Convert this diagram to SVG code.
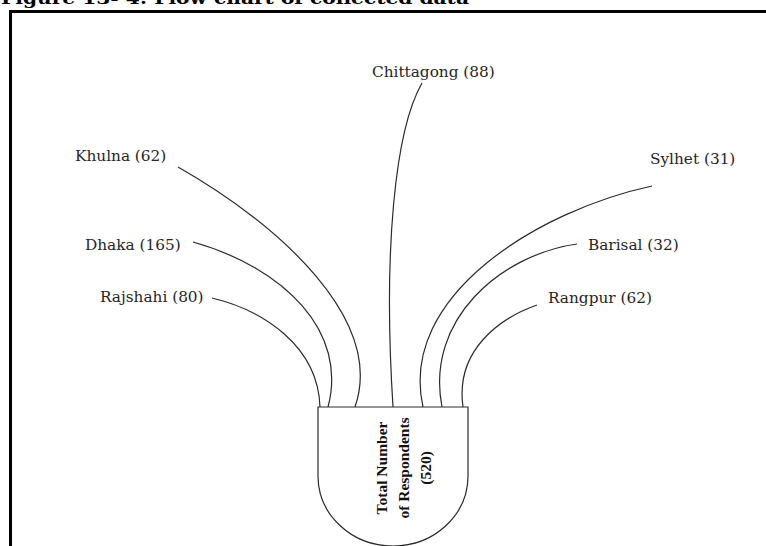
<svg xmlns="http://www.w3.org/2000/svg" width="766" height="546" viewBox="0 0 766 546">
<style>
.lbl{font-family:"DejaVu Serif","Liberation Serif",serif;font-size:15.3px;fill:#262626}
.conn{fill:none;stroke:#2a2a2a;stroke-width:1.2}
.cup{fill:#fff;stroke:#2a2a2a;stroke-width:1.2}
.cuptxt{font-family:"Liberation Serif",serif;font-size:15.5px;font-weight:bold;fill:#111;text-anchor:middle}
.title{font-family:"DejaVu Serif","Liberation Serif",serif;font-size:16px;font-weight:bold;fill:#000}
</style>
<rect width="766" height="546" fill="#fff"/>
<text class="title" x="1" y="4" textLength="468" lengthAdjust="spacingAndGlyphs">Figure 13- 4: Flow chart of collected data</text>
<path d="M10.5,546 V11.5 H766" fill="none" stroke="#000" stroke-width="3"/>
<g id="connectors">
<path class="conn" d="M212,298 C262,310 318,345 320,407"/>
<path class="conn" d="M193,242 C285,268 348,332 328,407"/>
<path class="conn" d="M178,167 C280,225 385,320 355,407"/>
<path class="conn" d="M422,83 C395,130 383,250 393,407"/>
<path class="conn" d="M652,186 C540,210 398,295 423,407"/>
<path class="conn" d="M577,244 C500,255 425,320 442,407"/>
<path class="conn" d="M537,305 C500,318 455,350 463,407"/>
</g>
<g id="total">
<path class="cup" d="M318,407 H468 V476 A75,70 0 0 1 318,476 Z"/>
<text class="cuptxt" transform="translate(387,468) rotate(-90)">Total Number</text>
<text class="cuptxt" transform="translate(409,468) rotate(-90)">of Respondents</text>
<text class="cuptxt" transform="translate(431,468) rotate(-90)">(520)</text>
</g>
<g id="chittagong"><text class="lbl" x="372" y="77">Chittagong (88)</text></g>
<g id="khulna"><text class="lbl" x="75" y="161">Khulna (62)</text></g>
<g id="dhaka"><text class="lbl" x="85" y="250">Dhaka (165)</text></g>
<g id="rajshahi"><text class="lbl" x="100" y="302">Rajshahi (80)</text></g>
<g id="sylhet"><text class="lbl" x="650" y="164">Sylhet (31)</text></g>
<g id="barisal"><text class="lbl" x="588" y="250">Barisal (32)</text></g>
<g id="rangpur"><text class="lbl" x="548" y="303">Rangpur (62)</text></g>
</svg>
